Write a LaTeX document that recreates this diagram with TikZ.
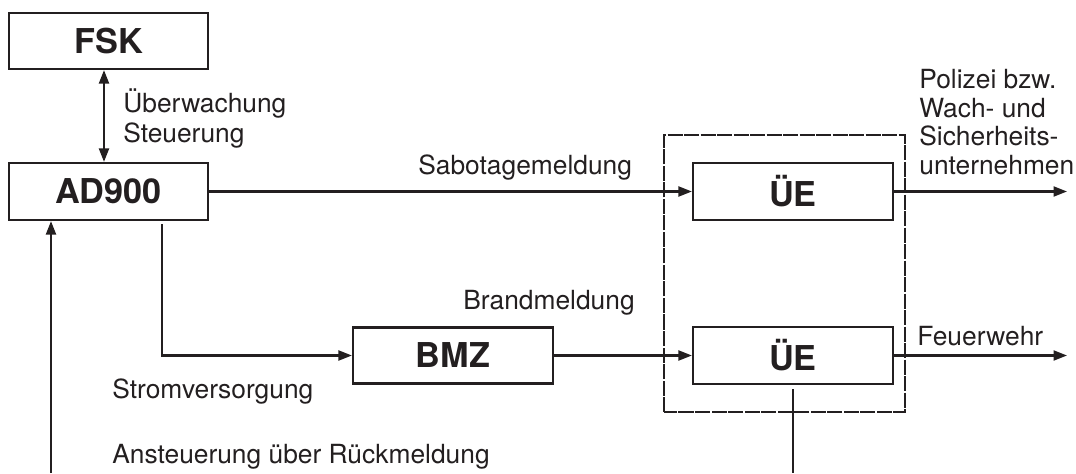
\documentclass[tikz,border=0pt]{standalone}
\usepackage{fontspec}
\setmainfont{TeX Gyre Heros}
\usetikzlibrary{arrows.meta}
\definecolor{ink}{RGB}{35,31,32}
\tikzset{
  block/.style={draw=ink, line width=1.3pt, minimum width=4cm, minimum height=1.14cm,
    inner sep=0pt, font=\fontsize{19.5}{22}\selectfont\bfseries, text=ink},
  lbl/.style={inner sep=0pt, font=\fontsize{15}{17}\selectfont, text=ink, align=left},
}
\begin{document}
\begin{tikzpicture}[>={Triangle[length=0.27cm, width=0.2cm]}, line join=miter]
  \useasboundingbox (0,0) rectangle (21.52,9.46);

  % Boxes
  \node[block, minimum width=3.98cm, minimum height=1.12cm] (FSK) at (2.17,8.64) {FSK};
  \node[block, minimum width=3.98cm] (AD900) at (2.17,5.63) {AD900};
  \node[block] (UE1) at (15.86,5.63) {ÜE};
  \node[block] (UE2) at (15.86,2.35) {ÜE};
  \node[block, minimum height=1.12cm] (BMZ) at (9.06,2.35) {BMZ};
  \draw[ink, line width=1.3pt, dash pattern=on 0.3cm off 0.03cm] (13.28,1.22) rectangle (18.10,6.76);

  % Ends
  \coordinate (out1) at (21.34,5.63);
  \coordinate (out2) at (21.34,2.35);
  \coordinate (rueck) at (1.02,0);
  \coordinate (ue2end) at (15.86,0);

  % Connectors
  \begin{scope}[draw=ink, line width=1.3pt]
    \draw[<->] ([xshift=-0.09cm]FSK.south) -- ([xshift=-0.09cm]AD900.north);
    \draw[->] (AD900.east) -- (UE1.west);
    \draw[->] ([xshift=1.07cm,yshift=-0.06cm]AD900.south) |- (BMZ.west);
    \draw[->] (BMZ.east) -- (UE2.west);
    \draw[->] (UE1.east) -- (out1);
    \draw[->] (UE2.east) -- (out2);
    \draw[->] (rueck) -- (rueck |- AD900.south);
    \draw ([yshift=-0.08cm]UE2.south) -- (ue2end);
  \end{scope}

  % Labels
  \node[lbl, anchor=west, font=\fontsize{15}{17.5}\selectfont] (ueberw) at (2.46,7.09) {Überwachung\\Steuerung};
  \node[lbl, anchor=base west] (sabo) at (8.36,5.96) {Sabotagemeldung};
  \node[lbl, anchor=base west] (brand) at (9.26,3.28) {Brandmeldung};
  \node[lbl, anchor=base west] (strom) at (2.24,1.50) {Stromversorgung};
  \node[lbl, anchor=base west] (anst) at (2.24,0.20) {Ansteuerung über Rückmeldung};
  \node[lbl, anchor=base west] (feuer) at (18.34,2.56) {Feuerwehr};
  \node[lbl, anchor=west, font=\fontsize{15}{16.2}\selectfont] (polizei) at (18.38,7.02)
    {Polizei bzw.\\Wach- und\\Sicherheits-\\unternehmen};
\end{tikzpicture}
\end{document}
